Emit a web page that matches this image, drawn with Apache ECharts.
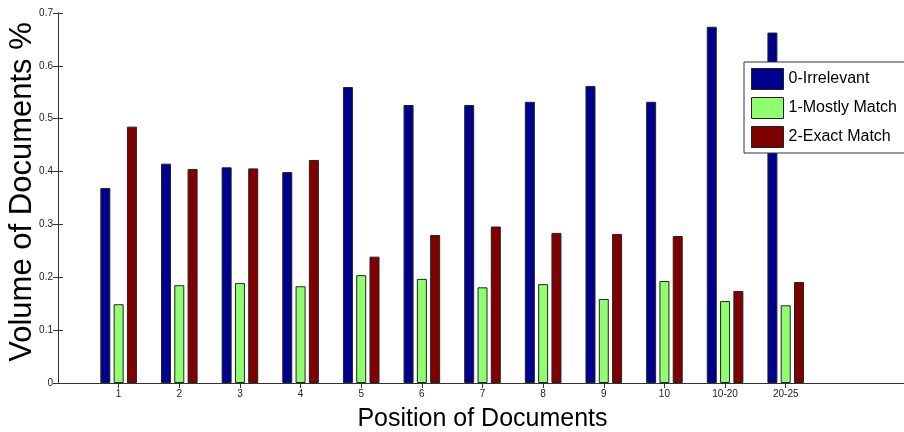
<!DOCTYPE html>
<html>
<head>
<meta charset="utf-8">
<script src="https://cdn.jsdelivr.net/npm/echarts@6/dist/echarts.min.js"></script>
<style>
html,body{margin:0;padding:0;background:#fff;}
#chart{width:904px;height:432px;}
</style>
</head>
<body>
<div id="chart"></div>
<script>
// Category labels (positions 1..12 on the x axis)
var categories = ['1','2','3','4','5','6','7','8','9','10','10-20','20-25'];
// Series values
var irrelevant   = [0.369,0.415,0.408,0.399,0.560,0.526,0.526,0.532,0.562,0.532,0.674,0.663];
var mostlyMatch  = [0.149,0.185,0.189,0.183,0.204,0.197,0.181,0.187,0.159,0.193,0.155,0.147];
var exactMatch   = [0.485,0.405,0.406,0.422,0.239,0.280,0.296,0.284,0.282,0.278,0.174,0.191];
var seriesNames  = ['0-Irrelevant','1-Mostly Match','2-Exact Match'];
// Y tick labels
var yTicks = ['0','0.1','0.2','0.3','0.4','0.5','0.6','0.7'];

var positions = categories.map(function(c,i){return i+1;});
function toPairs(arr){return arr.map(function(v,i){return [positions[i], v];});}

var FONT = 'Liberation Sans, Arial, Helvetica, sans-serif';
var colors = ['#00008F','#8FFF70','#800000'];

var chart = echarts.init(document.getElementById('chart'), null, {renderer:'canvas'});
var axisLine = {show:true, lineStyle:{color:'#333', width:1}};
var option = {
  animation:false,
  backgroundColor:'#fff',
  textStyle:{fontFamily:FONT},
  grid:{left:58, top:13, width:849, height:370, containLabel:false, outerBoundsMode:'none'},
  legend:{
    orient:'vertical', left:744, top:62,
    data:seriesNames,
    itemWidth:32, itemHeight:21, itemGap:7,
    padding:[6,30,5,7],
    backgroundColor:'#fff', borderColor:'#333', borderWidth:1,
    icon:'rect',
    itemStyle:{borderColor:'#222', borderWidth:1},
    textStyle:{fontFamily:FONT, fontSize:16, color:'#000'}
  },
  xAxis:[{
    type:'value', position:'bottom', min:0, max:14, interval:1,
    name:'Position of Documents', nameLocation:'middle', nameGap:24, nameMoveOverlap:false,
    nameTextStyle:{fontFamily:FONT, fontSize:25, color:'#000'},
    axisLine:axisLine,
    axisTick:{show:true, inside:true, length:5, customValues:positions, lineStyle:{color:'#333'}},
    axisLabel:{show:true, customValues:positions, fontSize:10, color:'#222', margin:6,
      formatter:function(v){return categories[v-1]||'';}},
    splitLine:{show:false}
  },{
    type:'value', position:'top', min:0, max:14, interval:1,
    axisLine:axisLine,
    axisTick:{show:true, inside:true, length:5, customValues:positions, lineStyle:{color:'#333'}},
    axisLabel:{show:false},
    splitLine:{show:false}
  }],
  yAxis:[{
    type:'value', position:'left', min:0, max:0.7, interval:0.1,
    name:'Volume of Documents %', nameLocation:'middle', nameGap:20, nameMoveOverlap:false,
    nameTextStyle:{fontFamily:FONT, fontSize:31, color:'#000', padding:[0,0,0,12]},
    axisLine:axisLine,
    axisTick:{show:true, inside:true, length:5, lineStyle:{color:'#333'}},
    axisLabel:{fontSize:10, color:'#222', margin:5, formatter:function(v){return yTicks[Math.round(v*10)];}},
    splitLine:{show:false}
  },{
    type:'value', position:'right', min:0, max:0.7, interval:0.1,
    axisLine:axisLine,
    axisTick:{show:true, inside:true, length:5, lineStyle:{color:'#333'}},
    axisLabel:{show:false},
    splitLine:{show:false}
  }],
  series:[irrelevant, mostlyMatch, exactMatch].map(function(arr,k){
    return {
      name:seriesNames[k], type:'bar', xAxisIndex:0, yAxisIndex:0,
      data:toPairs(arr), barWidth:10, barGap:'33%',
      itemStyle:{color:colors[k], borderColor:'#222', borderWidth:1}
    };
  })
};
chart.setOption(option);
</script>
</body>
</html>
